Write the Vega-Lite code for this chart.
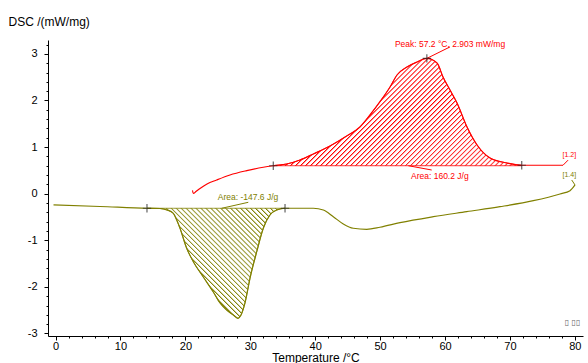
{
"$schema":"https://vega.github.io/schema/vega-lite/v6.json",
"width":535,"height":296,
"autosize":{"type":"none"},
"padding":{"left":48,"top":40,"right":5,"bottom":27},
"background":"white",
"config":{"view":{"stroke":null},"font":"Liberation Sans","axis":{"labelFont":"Liberation Sans","titleFont":"Liberation Sans","domainColor":"black","tickColor":"black","labelColor":"black","titleColor":"black","labelFontSize":11,"titleFontSize":12,"titleFontWeight":"normal","grid":false,"labelOverlap":false,"labelBound":false,"labelFlush":false,"domainWidth":1,"tickWidth":1,"tickCount":200}},
"datasets":{
"heat":[{"T":21.09,"D":0.069},{"T":21.22,"D":0.004},{"T":21.63,"D":0.047},{"T":22.25,"D":0.112},{"T":23.33,"D":0.208},{"T":24.82,"D":0.294},{"T":26.87,"D":0.401},{"T":29.45,"D":0.494},{"T":32.0,"D":0.567},{"T":33.54,"D":0.6,"B":0.6},{"T":35.61,"D":0.637,"B":0.6},{"T":37.66,"D":0.723,"B":0.6},{"T":39.71,"D":0.852,"B":0.6},{"T":42.28,"D":1.024,"B":0.6},{"T":44.85,"D":1.238,"B":0.6},{"T":46.89,"D":1.431,"B":0.6},{"T":48.44,"D":1.689,"B":0.6},{"T":49.98,"D":1.974,"B":0.6},{"T":51.53,"D":2.29,"B":0.6},{"T":52.6,"D":2.547,"B":0.6},{"T":54.14,"D":2.719,"B":0.6},{"T":55.69,"D":2.826,"B":0.6},{"T":57.2,"D":2.903,"B":0.6},{"T":58.77,"D":2.805,"B":0.6},{"T":59.69,"D":2.504,"B":0.6},{"T":60.77,"D":2.225,"B":0.6},{"T":61.85,"D":1.946,"B":0.6},{"T":63.39,"D":1.431,"B":0.6},{"T":64.94,"D":1.045,"B":0.6},{"T":66.94,"D":0.766,"B":0.6},{"T":69.56,"D":0.659,"B":0.6},{"T":71.82,"D":0.61,"B":0.6},{"T":74.64,"D":0.61},{"T":78.18,"D":0.61}],
"cool":[{"T":-0.32,"D":-0.242},{"T":6.84,"D":-0.275},{"T":14.08,"D":-0.313,"B":-0.313},{"T":16.09,"D":-0.318,"B":-0.313},{"T":17.16,"D":-0.35,"B":-0.313},{"T":18.14,"D":-0.421,"B":-0.313},{"T":18.66,"D":-0.564,"B":-0.313},{"T":19.17,"D":-0.742,"B":-0.313},{"T":20.2,"D":-1.172,"B":-0.313},{"T":21.22,"D":-1.459,"B":-0.313},{"T":22.76,"D":-1.788,"B":-0.313},{"T":24.3,"D":-2.109,"B":-0.313},{"T":25.33,"D":-2.345,"B":-0.313},{"T":26.36,"D":-2.496,"B":-0.313},{"T":27.38,"D":-2.603,"B":-0.313},{"T":28.1,"D":-2.674,"B":-0.313},{"T":28.57,"D":-2.603,"B":-0.313},{"T":29.18,"D":-2.345,"B":-0.313},{"T":29.95,"D":-1.815,"B":-0.313},{"T":30.99,"D":-1.245,"B":-0.313},{"T":32.0,"D":-0.742,"B":-0.313},{"T":33.03,"D":-0.457,"B":-0.313},{"T":34.07,"D":-0.35,"B":-0.313},{"T":35.35,"D":-0.313,"B":-0.313},{"T":37.66,"D":-0.313},{"T":39.71,"D":-0.313},{"T":41.25,"D":-0.35},{"T":42.79,"D":-0.494},{"T":44.33,"D":-0.65},{"T":45.87,"D":-0.742},{"T":47.94,"D":-0.764},{"T":49.98,"D":-0.721},{"T":53.07,"D":-0.622},{"T":58.2,"D":-0.494},{"T":63.34,"D":-0.386},{"T":68.47,"D":-0.279},{"T":73.61,"D":-0.15},{"T":77.72,"D":-0.006},{"T":79.26,"D":0.064},{"T":80.03,"D":0.187}],
"marks":[{"T":33.54,"D":0.6},{"T":71.82,"D":0.61},{"T":57.2,"D":2.903},{"T":14.08,"D":-0.313},{"T":35.35,"D":-0.313}],
"leaders":[{"T":57.2,"D":2.903,"T2":60.77,"D2":3.15,"s":"heat"},{"T":54.35,"D":0.6,"T2":57.95,"D2":0.508,"s":"heat"},{"T":78.18,"D":0.61,"T2":78.96,"D2":0.72,"s":"heat"},{"T":80.03,"D":0.187,"T2":79.52,"D2":0.294,"s":"cool"},{"T":25.59,"D":-0.313,"T2":29.69,"D2":-0.185,"s":"cool"}],
"notes":[{"T":60.77,"D":3.212,"label":"Peak: 57.2 °C, 2.903 mW/mg","s":"heat"},{"T":59.2,"D":0.38,"label":"Area: 160.2 J/g","s":"heat"},{"T":29.65,"D":-0.064,"label":"Area: -147.6 J/g","s":"cool"}],
"tags":[{"T":79.15,"D":0.83,"label":"[1.2]","s":"heat"},{"T":79.15,"D":0.4,"label":"[1.4]","s":"cool"}],
"glyphs":[{"T":79.65,"D":-2.775,"label":"▯ ▯▯"}]
},
"layer":[
{"data":{"name":"heat"},"transform":[{"filter":"datum.B != null"}],
"mark":{"type":"area","interpolate":"monotone","stroke":"#ff0000","strokeWidth":0.8,"fill":{"gradient":"linear","x1":0,"y1":0,"x2":1.207,"y2":0.523,"stops":[
{"offset":0,"color":"#f00"},{"offset":0.005,"color":"#fff"},{"offset":0.012,"color":"#fff"},
{"offset":0.014,"color":"#f00"},{"offset":0.019,"color":"#fff"},{"offset":0.026,"color":"#fff"},
{"offset":0.028,"color":"#f00"},{"offset":0.033,"color":"#fff"},{"offset":0.04,"color":"#fff"},
{"offset":0.042,"color":"#f00"},{"offset":0.047,"color":"#fff"},{"offset":0.054,"color":"#fff"},
{"offset":0.056,"color":"#f00"},{"offset":0.061,"color":"#fff"},{"offset":0.068,"color":"#fff"},
{"offset":0.07,"color":"#f00"},{"offset":0.075,"color":"#fff"},{"offset":0.082,"color":"#fff"},
{"offset":0.084,"color":"#f00"},{"offset":0.089,"color":"#fff"},{"offset":0.096,"color":"#fff"},
{"offset":0.098,"color":"#f00"},{"offset":0.103,"color":"#fff"},{"offset":0.11,"color":"#fff"},
{"offset":0.112,"color":"#f00"},{"offset":0.117,"color":"#fff"},{"offset":0.124,"color":"#fff"},
{"offset":0.126,"color":"#f00"},{"offset":0.131,"color":"#fff"},{"offset":0.138,"color":"#fff"},
{"offset":0.14,"color":"#f00"},{"offset":0.145,"color":"#fff"},{"offset":0.152,"color":"#fff"},
{"offset":0.154,"color":"#f00"},{"offset":0.159,"color":"#fff"},{"offset":0.166,"color":"#fff"},
{"offset":0.168,"color":"#f00"},{"offset":0.173,"color":"#fff"},{"offset":0.18,"color":"#fff"},
{"offset":0.182,"color":"#f00"},{"offset":0.187,"color":"#fff"},{"offset":0.194,"color":"#fff"},
{"offset":0.196,"color":"#f00"},{"offset":0.201,"color":"#fff"},{"offset":0.208,"color":"#fff"},
{"offset":0.21,"color":"#f00"},{"offset":0.215,"color":"#fff"},{"offset":0.222,"color":"#fff"},
{"offset":0.224,"color":"#f00"},{"offset":0.229,"color":"#fff"},{"offset":0.236,"color":"#fff"},
{"offset":0.238,"color":"#f00"},{"offset":0.243,"color":"#fff"},{"offset":0.25,"color":"#fff"},
{"offset":0.252,"color":"#f00"},{"offset":0.257,"color":"#fff"},{"offset":0.264,"color":"#fff"},
{"offset":0.266,"color":"#f00"},{"offset":0.271,"color":"#fff"},{"offset":0.278,"color":"#fff"},
{"offset":0.28,"color":"#f00"},{"offset":0.285,"color":"#fff"},{"offset":0.292,"color":"#fff"},
{"offset":0.294,"color":"#f00"},{"offset":0.299,"color":"#fff"},{"offset":0.306,"color":"#fff"},
{"offset":0.308,"color":"#f00"},{"offset":0.313,"color":"#fff"},{"offset":0.32,"color":"#fff"},
{"offset":0.322,"color":"#f00"},{"offset":0.327,"color":"#fff"},{"offset":0.334,"color":"#fff"},
{"offset":0.336,"color":"#f00"},{"offset":0.341,"color":"#fff"},{"offset":0.348,"color":"#fff"},
{"offset":0.35,"color":"#f00"},{"offset":0.355,"color":"#fff"},{"offset":0.362,"color":"#fff"},
{"offset":0.364,"color":"#f00"},{"offset":0.369,"color":"#fff"},{"offset":0.376,"color":"#fff"},
{"offset":0.378,"color":"#f00"},{"offset":0.383,"color":"#fff"},{"offset":0.39,"color":"#fff"},
{"offset":0.392,"color":"#f00"},{"offset":0.397,"color":"#fff"},{"offset":0.404,"color":"#fff"},
{"offset":0.406,"color":"#f00"},{"offset":0.411,"color":"#fff"},{"offset":0.418,"color":"#fff"},
{"offset":0.42,"color":"#f00"},{"offset":0.425,"color":"#fff"},{"offset":0.432,"color":"#fff"},
{"offset":0.434,"color":"#f00"},{"offset":0.439,"color":"#fff"},{"offset":0.446,"color":"#fff"},
{"offset":0.448,"color":"#f00"},{"offset":0.453,"color":"#fff"},{"offset":0.46,"color":"#fff"},
{"offset":0.462,"color":"#f00"},{"offset":0.467,"color":"#fff"},{"offset":0.474,"color":"#fff"},
{"offset":0.476,"color":"#f00"},{"offset":0.481,"color":"#fff"},{"offset":0.488,"color":"#fff"},
{"offset":0.49,"color":"#f00"},{"offset":0.495,"color":"#fff"},{"offset":0.502,"color":"#fff"},
{"offset":0.504,"color":"#f00"},{"offset":0.509,"color":"#fff"},{"offset":0.516,"color":"#fff"},
{"offset":0.518,"color":"#f00"},{"offset":0.523,"color":"#fff"},{"offset":0.53,"color":"#fff"},
{"offset":0.532,"color":"#f00"},{"offset":0.537,"color":"#fff"},{"offset":0.544,"color":"#fff"},
{"offset":0.546,"color":"#f00"},{"offset":0.551,"color":"#fff"},{"offset":0.558,"color":"#fff"},
{"offset":0.56,"color":"#f00"},{"offset":0.565,"color":"#fff"},{"offset":0.572,"color":"#fff"},
{"offset":0.574,"color":"#f00"},{"offset":0.579,"color":"#fff"},{"offset":0.586,"color":"#fff"},
{"offset":0.588,"color":"#f00"},{"offset":0.593,"color":"#fff"},{"offset":0.6,"color":"#fff"},
{"offset":0.602,"color":"#f00"},{"offset":0.607,"color":"#fff"},{"offset":0.614,"color":"#fff"},
{"offset":0.616,"color":"#f00"},{"offset":0.621,"color":"#fff"},{"offset":0.628,"color":"#fff"},
{"offset":0.63,"color":"#f00"},{"offset":0.635,"color":"#fff"},{"offset":0.642,"color":"#fff"},
{"offset":0.644,"color":"#f00"},{"offset":0.649,"color":"#fff"},{"offset":0.656,"color":"#fff"},
{"offset":0.658,"color":"#f00"},{"offset":0.663,"color":"#fff"},{"offset":0.67,"color":"#fff"},
{"offset":0.672,"color":"#f00"},{"offset":0.677,"color":"#fff"},{"offset":0.684,"color":"#fff"},
{"offset":0.686,"color":"#f00"},{"offset":0.691,"color":"#fff"},{"offset":0.698,"color":"#fff"},
{"offset":0.7,"color":"#f00"},{"offset":0.705,"color":"#fff"},{"offset":0.712,"color":"#fff"},
{"offset":0.714,"color":"#f00"},{"offset":0.719,"color":"#fff"},{"offset":0.726,"color":"#fff"},
{"offset":0.728,"color":"#f00"},{"offset":0.733,"color":"#fff"},{"offset":0.74,"color":"#fff"},
{"offset":0.742,"color":"#f00"},{"offset":0.747,"color":"#fff"},{"offset":0.754,"color":"#fff"},
{"offset":0.756,"color":"#f00"},{"offset":0.761,"color":"#fff"},{"offset":0.768,"color":"#fff"},
{"offset":0.77,"color":"#f00"},{"offset":0.775,"color":"#fff"},{"offset":0.782,"color":"#fff"},
{"offset":0.784,"color":"#f00"},{"offset":0.789,"color":"#fff"},{"offset":0.796,"color":"#fff"},
{"offset":0.798,"color":"#f00"},{"offset":0.803,"color":"#fff"},{"offset":0.81,"color":"#fff"},
{"offset":0.812,"color":"#f00"},{"offset":0.817,"color":"#fff"},{"offset":0.824,"color":"#fff"},
{"offset":0.826,"color":"#f00"},{"offset":0.831,"color":"#fff"},{"offset":0.838,"color":"#fff"},
{"offset":0.84,"color":"#f00"},{"offset":0.845,"color":"#fff"},{"offset":0.852,"color":"#fff"},
{"offset":0.854,"color":"#f00"},{"offset":0.859,"color":"#fff"},{"offset":0.866,"color":"#fff"},
{"offset":0.868,"color":"#f00"},{"offset":0.873,"color":"#fff"},{"offset":0.88,"color":"#fff"},
{"offset":0.882,"color":"#f00"},{"offset":0.887,"color":"#fff"},{"offset":0.894,"color":"#fff"},
{"offset":0.896,"color":"#f00"},{"offset":0.901,"color":"#fff"},{"offset":0.908,"color":"#fff"},
{"offset":0.91,"color":"#f00"},{"offset":0.915,"color":"#fff"},{"offset":0.922,"color":"#fff"},
{"offset":0.924,"color":"#f00"},{"offset":0.929,"color":"#fff"},{"offset":0.936,"color":"#fff"},
{"offset":0.938,"color":"#f00"},{"offset":0.943,"color":"#fff"},{"offset":0.95,"color":"#fff"},
{"offset":0.952,"color":"#f00"},{"offset":0.957,"color":"#fff"},{"offset":0.964,"color":"#fff"},
{"offset":0.966,"color":"#f00"},{"offset":0.971,"color":"#fff"},{"offset":0.978,"color":"#fff"},
{"offset":0.98,"color":"#f00"},{"offset":0.985,"color":"#fff"},{"offset":0.992,"color":"#fff"},
{"offset":0.994,"color":"#f00"},{"offset":0.999,"color":"#fff"}]}},
"encoding":{
"x":{"field":"T","type":"quantitative","scale":{"domain":[-1.17,81.26],"nice":false,"zero":false},
"axis":{"values":[0,2,4,6,8,10,12,14,16,18,20,22,24,26,28,30,32,34,36,38,40,42,44,46,48,50,52,54,56,58,60,62,64,66,68,70,72,74,76,78,80],
"tickCount":200,
"labelExpr":"datum.value % 10 === 0 ? '' + datum.value : ''",
"tickSize":{"condition":{"test":"datum.value % 10 === 0","value":4},"value":2},
"labelPadding":0,"titlePadding":1,"title":"Temperature /°C"}},
"y":{"field":"D","type":"quantitative","scale":{"domain":[-3.054,3.298],"nice":false,"zero":false},
"axis":{"values":[-3,-2.8,-2.6,-2.4,-2.2,-2,-1.8,-1.6,-1.4,-1.2,-1,-0.8,-0.6,-0.4,-0.2,0,0.2,0.4,0.6,0.8,1,1.2,1.4,1.6,1.8,2,2.2,2.4,2.6,2.8,3,3.2],
"tickCount":200,
"labelExpr":"abs(datum.value - round(datum.value)) < 0.001 ? '' + round(datum.value) : ''",
"tickSize":{"condition":{"test":"abs(datum.value - round(datum.value)) < 0.001","value":4},"value":2},
"labelPadding":7,"title":"DSC /(mW/mg)","titleAngle":0,"titleAlign":"left","titleBaseline":"middle","titleX":-40,"titleY":-19}},
"y2":{"field":"B"}}},
{"data":{"name":"cool"},"transform":[{"filter":"datum.B != null"}],
"mark":{"type":"area","interpolate":"monotone","stroke":"#808000","strokeWidth":0.8,"fill":{"gradient":"linear","x1":0,"y1":1,"x2":1.099,"y2":0.124,"stops":[
{"offset":0,"color":"#808000"},{"offset":0.007,"color":"#fff"},{"offset":0.017,"color":"#fff"},
{"offset":0.02,"color":"#808000"},{"offset":0.027,"color":"#fff"},{"offset":0.037,"color":"#fff"},
{"offset":0.04,"color":"#808000"},{"offset":0.047,"color":"#fff"},{"offset":0.057,"color":"#fff"},
{"offset":0.06,"color":"#808000"},{"offset":0.067,"color":"#fff"},{"offset":0.077,"color":"#fff"},
{"offset":0.08,"color":"#808000"},{"offset":0.087,"color":"#fff"},{"offset":0.097,"color":"#fff"},
{"offset":0.1,"color":"#808000"},{"offset":0.107,"color":"#fff"},{"offset":0.117,"color":"#fff"},
{"offset":0.12,"color":"#808000"},{"offset":0.127,"color":"#fff"},{"offset":0.137,"color":"#fff"},
{"offset":0.14,"color":"#808000"},{"offset":0.147,"color":"#fff"},{"offset":0.157,"color":"#fff"},
{"offset":0.16,"color":"#808000"},{"offset":0.167,"color":"#fff"},{"offset":0.177,"color":"#fff"},
{"offset":0.18,"color":"#808000"},{"offset":0.187,"color":"#fff"},{"offset":0.197,"color":"#fff"},
{"offset":0.2,"color":"#808000"},{"offset":0.207,"color":"#fff"},{"offset":0.217,"color":"#fff"},
{"offset":0.22,"color":"#808000"},{"offset":0.227,"color":"#fff"},{"offset":0.237,"color":"#fff"},
{"offset":0.24,"color":"#808000"},{"offset":0.247,"color":"#fff"},{"offset":0.257,"color":"#fff"},
{"offset":0.26,"color":"#808000"},{"offset":0.267,"color":"#fff"},{"offset":0.277,"color":"#fff"},
{"offset":0.28,"color":"#808000"},{"offset":0.287,"color":"#fff"},{"offset":0.297,"color":"#fff"},
{"offset":0.3,"color":"#808000"},{"offset":0.307,"color":"#fff"},{"offset":0.317,"color":"#fff"},
{"offset":0.32,"color":"#808000"},{"offset":0.327,"color":"#fff"},{"offset":0.337,"color":"#fff"},
{"offset":0.34,"color":"#808000"},{"offset":0.347,"color":"#fff"},{"offset":0.357,"color":"#fff"},
{"offset":0.36,"color":"#808000"},{"offset":0.367,"color":"#fff"},{"offset":0.377,"color":"#fff"},
{"offset":0.38,"color":"#808000"},{"offset":0.387,"color":"#fff"},{"offset":0.397,"color":"#fff"},
{"offset":0.4,"color":"#808000"},{"offset":0.407,"color":"#fff"},{"offset":0.417,"color":"#fff"},
{"offset":0.42,"color":"#808000"},{"offset":0.427,"color":"#fff"},{"offset":0.437,"color":"#fff"},
{"offset":0.44,"color":"#808000"},{"offset":0.447,"color":"#fff"},{"offset":0.457,"color":"#fff"},
{"offset":0.46,"color":"#808000"},{"offset":0.467,"color":"#fff"},{"offset":0.477,"color":"#fff"},
{"offset":0.48,"color":"#808000"},{"offset":0.487,"color":"#fff"},{"offset":0.497,"color":"#fff"},
{"offset":0.5,"color":"#808000"},{"offset":0.507,"color":"#fff"},{"offset":0.517,"color":"#fff"},
{"offset":0.52,"color":"#808000"},{"offset":0.527,"color":"#fff"},{"offset":0.537,"color":"#fff"},
{"offset":0.54,"color":"#808000"},{"offset":0.547,"color":"#fff"},{"offset":0.557,"color":"#fff"},
{"offset":0.56,"color":"#808000"},{"offset":0.567,"color":"#fff"},{"offset":0.577,"color":"#fff"},
{"offset":0.58,"color":"#808000"},{"offset":0.587,"color":"#fff"},{"offset":0.597,"color":"#fff"},
{"offset":0.6,"color":"#808000"},{"offset":0.607,"color":"#fff"},{"offset":0.617,"color":"#fff"},
{"offset":0.62,"color":"#808000"},{"offset":0.627,"color":"#fff"},{"offset":0.637,"color":"#fff"},
{"offset":0.64,"color":"#808000"},{"offset":0.647,"color":"#fff"},{"offset":0.657,"color":"#fff"},
{"offset":0.66,"color":"#808000"},{"offset":0.667,"color":"#fff"},{"offset":0.677,"color":"#fff"},
{"offset":0.68,"color":"#808000"},{"offset":0.687,"color":"#fff"},{"offset":0.697,"color":"#fff"},
{"offset":0.7,"color":"#808000"},{"offset":0.707,"color":"#fff"},{"offset":0.717,"color":"#fff"},
{"offset":0.72,"color":"#808000"},{"offset":0.727,"color":"#fff"},{"offset":0.737,"color":"#fff"},
{"offset":0.74,"color":"#808000"},{"offset":0.747,"color":"#fff"},{"offset":0.757,"color":"#fff"},
{"offset":0.76,"color":"#808000"},{"offset":0.767,"color":"#fff"},{"offset":0.777,"color":"#fff"},
{"offset":0.78,"color":"#808000"},{"offset":0.787,"color":"#fff"},{"offset":0.797,"color":"#fff"},
{"offset":0.8,"color":"#808000"},{"offset":0.807,"color":"#fff"},{"offset":0.817,"color":"#fff"},
{"offset":0.82,"color":"#808000"},{"offset":0.827,"color":"#fff"},{"offset":0.837,"color":"#fff"},
{"offset":0.84,"color":"#808000"},{"offset":0.847,"color":"#fff"},{"offset":0.857,"color":"#fff"},
{"offset":0.86,"color":"#808000"},{"offset":0.867,"color":"#fff"},{"offset":0.877,"color":"#fff"},
{"offset":0.88,"color":"#808000"},{"offset":0.887,"color":"#fff"},{"offset":0.897,"color":"#fff"},
{"offset":0.9,"color":"#808000"},{"offset":0.907,"color":"#fff"},{"offset":0.917,"color":"#fff"},
{"offset":0.92,"color":"#808000"},{"offset":0.927,"color":"#fff"},{"offset":0.937,"color":"#fff"},
{"offset":0.94,"color":"#808000"},{"offset":0.947,"color":"#fff"},{"offset":0.957,"color":"#fff"},
{"offset":0.96,"color":"#808000"},{"offset":0.967,"color":"#fff"},{"offset":0.977,"color":"#fff"},
{"offset":0.98,"color":"#808000"},{"offset":0.987,"color":"#fff"},{"offset":0.997,"color":"#fff"}]}},
"encoding":{"x":{"field":"T","type":"quantitative"},"y":{"field":"D","type":"quantitative"},"y2":{"field":"B"}}},
{"data":{"name":"heat"},"mark":{"type":"line","interpolate":"monotone","color":"#ff0000","strokeWidth":1.2},
"encoding":{"x":{"field":"T","type":"quantitative"},"y":{"field":"D","type":"quantitative"}}},
{"data":{"name":"cool"},"mark":{"type":"line","interpolate":"monotone","color":"#808000","strokeWidth":1.2},
"encoding":{"x":{"field":"T","type":"quantitative"},"y":{"field":"D","type":"quantitative"}}},
{"data":{"name":"leaders"},"mark":{"type":"rule","strokeWidth":1},
"encoding":{"x":{"field":"T","type":"quantitative"},"y":{"field":"D","type":"quantitative"},"x2":{"field":"T2"},"y2":{"field":"D2"},
"color":{"field":"s","type":"nominal","scale":{"domain":["heat","cool"],"range":["#ff0000","#808000"]},"legend":null}}},
{"data":{"name":"marks"},"mark":{"type":"point","shape":"M-1,0L1,0M0,-1L0,1","size":70,"filled":false,"color":"#222222","strokeWidth":1.2},
"encoding":{"x":{"field":"T","type":"quantitative"},"y":{"field":"D","type":"quantitative"}}},
{"data":{"name":"notes"},"mark":{"type":"text","fontSize":8.5,"font":"Liberation Sans","align":"center","baseline":"middle"},
"encoding":{"x":{"field":"T","type":"quantitative"},"y":{"field":"D","type":"quantitative"},"text":{"field":"label"},
"color":{"field":"s","type":"nominal","scale":{"domain":["heat","cool"],"range":["#ff0000","#808000"]},"legend":null}}},
{"data":{"name":"tags"},"mark":{"type":"text","fontSize":7,"font":"Liberation Sans","align":"center","baseline":"middle"},
"encoding":{"x":{"field":"T","type":"quantitative"},"y":{"field":"D","type":"quantitative"},"text":{"field":"label"},
"color":{"field":"s","type":"nominal","scale":{"domain":["heat","cool"],"range":["#ff0000","#808000"]},"legend":null}}},
{"data":{"name":"glyphs"},"mark":{"type":"text","fontSize":8,"font":"DejaVu Sans","align":"center","baseline":"middle","color":"#666666"},
"encoding":{"x":{"field":"T","type":"quantitative"},"y":{"field":"D","type":"quantitative"},"text":{"field":"label"}}}
]
}
